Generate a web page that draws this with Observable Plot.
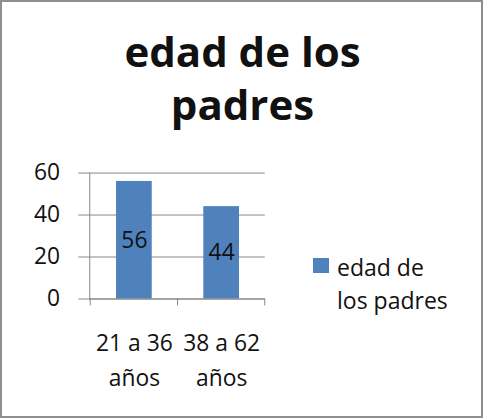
<!DOCTYPE html>
<html>
<head>
<meta charset="utf-8">
<script src="https://cdn.jsdelivr.net/npm/d3@7"></script>
<script src="https://cdn.jsdelivr.net/npm/@observablehq/plot@0.6"></script>
<style>
  html, body { margin: 0; padding: 0; background: #fff; }
  #chart { position: relative; width: 483px; height: 418px; box-sizing: border-box; border: 2px solid #8e8e8e; overflow: hidden; font-family: "Open Sans", sans-serif; color: #111; }
  #chart svg { position: absolute; left: -2px; top: -2px; }
  #title { position: absolute; left: 0; top: 0; width: 481px; text-align: center; font-weight: bold; font-size: 42px; line-height: 53px; padding-top: 22px; }
  #legend { position: absolute; left: 311px; top: 249px; font-size: 23px; line-height: 33px; }
  #legend .sw { display: inline-block; width: 16px; height: 15px; vertical-align: middle; margin-right: 8px; position: relative; top: -4px; }
  #legend .t { display: inline-block; vertical-align: top; }
</style>
</head>
<body>
<div id="chart"></div>
<script>
const categories = ["21 a 36 años", "38 a 62 años"];
const tickLabels = ["21 a 36\naños", "38 a 62\naños"];
const values = [56, 44];
const yTicks = [0, 20, 40, 60];
const seriesName = "edad de los padres";
const titleText = "edad de los padres";

const color = "#4F81BD";
const gray = "#868686";
const data = categories.map((c, i) => ({c, v: values[i]}));

const boundaryTicks = (index, scales, values, dimensions) => {
  const x = scales.x;
  const bw = x.bandwidth();
  const xs = categories.map(c => x(c)).concat([x(categories[categories.length - 1]) + bw]);
  const y0 = scales.y(0);
  const g = d3.create("svg:g");
  for (const xx of xs) {
    g.append("line").attr("x1", xx).attr("x2", xx).attr("y1", y0).attr("y2", y0 + 7)
      .attr("stroke", gray).attr("stroke-width", 1);
  }
  return g.node();
};

const plot = Plot.plot({
  width: 483,
  height: 418,
  marginLeft: 90,
  marginRight: 216,
  marginTop: 174,
  marginBottom: 117,
  style: {fontFamily: "Open Sans, sans-serif", fontSize: "23px", color: "#111", background: "transparent"},
  x: {domain: categories, padding: 0, label: null},
  y: {domain: [0, 60], label: null},
  marks: [
    Plot.gridY(yTicks, {stroke: gray, strokeOpacity: 1}),
    Plot.axisY({ticks: yTicks, tickSize: 11, tickPadding: 19, stroke: gray, strokeOpacity: 1, fontSize: 23, fill: "#111", label: null}),
    Plot.axisX({tickSize: 0, tickPadding: 28, tickFormat: (d) => tickLabels[categories.indexOf(d)], fontSize: 23, fill: "#111", lineHeight: 1.52, label: null}),
    Plot.barY(data, {x: "c", y: "v", fill: color, insetLeft: 26, insetRight: 26}),
    Plot.frame({anchor: "left", stroke: gray, strokeOpacity: 1}),
    Plot.ruleY([0], {stroke: gray, strokeOpacity: 1}),
    boundaryTicks,
    Plot.text(data, {x: "c", y: d => d.v / 2, text: d => String(d.v), fontSize: 23, fill: "#111"})
  ]
});

const chart = document.getElementById("chart");
chart.appendChild(plot);
const t = document.createElement("div");
t.id = "title";
t.innerHTML = "edad de los<br>padres";
chart.appendChild(t);
const lg = document.createElement("div");
lg.id = "legend";
lg.innerHTML = `<span class="sw" style="background:${color}"></span><span class="t">edad de<br>los padres</span>`;
chart.appendChild(lg);
</script>
</body>
</html>
